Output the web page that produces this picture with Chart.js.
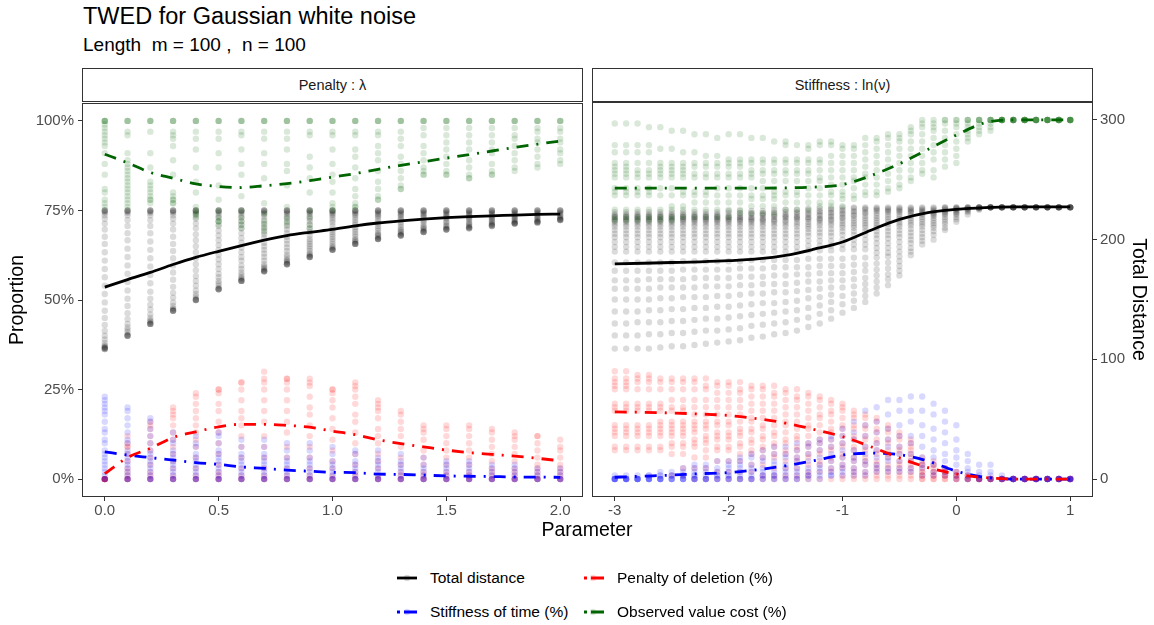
<!DOCTYPE html>
<html>
<head>
<meta charset="utf-8">
<script src="https://cdn.jsdelivr.net/npm/chart.js@4.4.1/dist/chart.umd.min.js"></script>
<style>
  body { margin: 0; background: #fff; font-family: "Liberation Sans", Arial, sans-serif; }
  #wrap { position: relative; width: 1154px; height: 625px; overflow: hidden; }
  .txt { position: absolute; white-space: nowrap; line-height: 1; }
  .strip { position: absolute; top: 68px; height: 34px; width: 501px; border: 1px solid #333; box-sizing: border-box;
           display: flex; align-items: center; justify-content: center; font-size: 14.5px; color: #1a1a1a; }
  canvas { position: absolute; }
  .key { position: absolute; }
  .legtxt { position: absolute; font-size: 15.5px; line-height: 20px; color: #000; white-space: nowrap; }
</style>
</head>
<body>
<div id="wrap">
  <div class="txt" style="left:83px;top:5px;font-size:23.5px;color:#000;">TWED for Gaussian white noise</div>
  <div class="txt" style="left:83px;top:35px;font-size:19px;color:#000;">Length&nbsp; m = 100 ,&nbsp; n = 100</div>

  <div class="strip" style="left:82px;">Penalty : λ</div>
  <div class="strip" style="left:592px;">Stiffness : ln(ν)</div>

  <canvas id="penaltyChart" width="590" height="435" style="left:0px;top:90px;"></canvas>
  <canvas id="stiffnessChart" width="569" height="435" style="left:585px;top:90px;"></canvas>

  <div class="txt" style="left:487px;width:200px;text-align:center;top:520px;font-size:19.5px;color:#000;">Parameter</div>

  <!-- legend -->
  <svg class="key" style="left:394px;top:568px" width="26" height="20">
    <circle cx="13" cy="10" r="3.2" fill="rgba(0,0,0,0.15)"/>
    <line x1="3" y1="10" x2="23" y2="10" stroke="#000" stroke-width="2.8"/>
  </svg>
  <div class="legtxt" style="left:430px;top:568px">Total distance</div>
  <svg class="key" style="left:580px;top:568px" width="26" height="20">
    <circle cx="13" cy="10" r="3.2" fill="rgba(255,0,0,0.15)"/>
    <line x1="4" y1="10" x2="24" y2="10" stroke="#ff0000" stroke-width="2.8" stroke-dasharray="3 4 13 8"/>
  </svg>
  <div class="legtxt" style="left:617px;top:568px">Penalty of deletion (%)</div>
  <svg class="key" style="left:394px;top:602px" width="26" height="20">
    <circle cx="13" cy="10" r="3.2" fill="rgba(0,0,255,0.15)"/>
    <line x1="3" y1="10" x2="23" y2="10" stroke="#0000ff" stroke-width="2.8" stroke-dasharray="3 4 13 8"/>
  </svg>
  <div class="legtxt" style="left:430px;top:602px">Stiffness of time (%)</div>
  <svg class="key" style="left:580px;top:602px" width="26" height="20">
    <circle cx="13" cy="10" r="3.2" fill="rgba(0,100,0,0.15)"/>
    <line x1="4" y1="10" x2="24" y2="10" stroke="#006400" stroke-width="2.8" stroke-dasharray="3 4 13 8"/>
  </svg>
  <div class="legtxt" style="left:617px;top:602px">Observed value cost (%)</div>
</div>

<script>
// ---- parameter grids ----
const lambdaSteps = [0, 0.1, 0.2, 0.3, 0.4, 0.5, 0.6, 0.7, 0.8, 0.9, 1.0, 1.1, 1.2, 1.3, 1.4, 1.5, 1.6, 1.7, 1.8, 1.9, 2.0];
const lnNuSteps = [-3, -2.9, -2.8, -2.7, -2.6, -2.5, -2.4, -2.3, -2.2, -2.1, -2, -1.9, -1.8, -1.7, -1.6, -1.5, -1.4, -1.3, -1.2, -1.1,
                   -1, -0.9, -0.8, -0.7, -0.6, -0.5, -0.4, -0.3, -0.2, -0.1, 0, 0.1, 0.2, 0.3, 0.4, 0.5, 0.6, 0.7, 0.8, 0.9, 1];

// tick labels
const lambdaTicks = [0, 0.5, 1, 1.5, 2];
const lnNuTicks = [-3, -2, -1, 0, 1];
const propTicks = [0, 25, 50, 75, 100];
const distTicks = [0, 100, 200, 300];

// ---- penalty panel: observations per lambda (one string per column) ----
// total distance (right axis units)
const lamTotal = [
  "225 225 225 224 223 221 218 214 209 203 197 190 183 176 169 162 155 148 141 135 129 124 120 117 114 112 111 110 110 110 109 109 109",
  "225 225 225 224 223 221 217 212 206 200 193 186 179 172 165 158 151 145 139 134 130 127 125 123 121 120 120 120 120",
  "225 225 225 224 223 221 217 212 206 199 192 185 178 171 164 157 151 146 142 138 135 133 132 131 130 130 130 130",
  "225 225 225 224 223 221 218 214 209 203 197 191 185 179 173 167 161 156 152 148 145 143 142 141 141 141 141",
  "225 225 225 224 223 221 218 214 210 205 200 195 190 185 180 175 170 166 162 158 155 153 151 150 150 150 150",
  "225 225 225 224 223 221 219 216 212 208 204 200 196 192 188 184 180 176 172 169 166 164 162 160 159 159 159 159",
  "225 225 225 224 223 221 219 216 213 210 206 202 198 194 190 186 183 179 176 173 171 169 168 167 166 166 166 166",
  "225 225 225 224 223 222 220 217 214 211 208 205 202 198 195 192 189 186 183 180 178 177 176 175 174 174 174 174",
  "225 225 225 224 223 222 220 218 215 212 209 206 203 200 197 194 191 188 186 184 183 182 181 180 180 180 180",
  "225 225 225 224 223 222 220 218 216 213 210 207 204 201 199 197 195 193 191 189 188 187 186 186 186 186",
  "225 225 225 224 223 222 221 219 217 215 212 209 207 205 203 201 199 197 195 194 193 192 192 192 192",
  "225 225 225 224 223 222 221 219 217 215 213 211 209 207 205 203 201 200 199 198 197 197 197 197",
  "225 225 225 224 223 222 221 220 218 216 214 212 210 208 206 205 204 203 202 201 201 201 201",
  "225 225 225 224 223 222 221 220 218 217 215 213 211 209 208 207 206 205 204 204 204 204",
  "225 225 225 224 223 222 221 220 219 217 216 214 212 211 210 209 208 207 207 207 207",
  "225 225 225 224 223 222 221 220 219 218 216 215 213 212 211 210 209 209 209 209",
  "225 225 225 224 223 222 221 220 219 218 217 215 214 213 212 211 211 210 210 210",
  "225 225 225 224 223 222 221 220 219 218 217 216 215 214 213 213 212 212 212",
  "225 225 225 224 223 222 221 220 219 218 217 216 215 215 214 214 214 214",
  "225 225 225 224 223 222 221 220 219 218 217 216 216 215 215 215 215",
  "225 225 225 224 223 222 221 220 219 218 218 217 217 217 217"
];
// penalty of deletion (%)
const lamPenalty = [
  "0 0 0 0 0 0 0 0 0",
  "0 0 0 0 1 2 3 5 7 9 9 10 12",
  "0 0 0 1 2 4 6 8 10 12 14 15 16",
  "0 0 0 1 3 5 7 9 11 13 15 17 18 19 20",
  "0 0 0 1 3 6 9 11 13 15 17 19 21 23 24",
  "0 0 0 1 2 4 7 10 13 16 19 21 24 25 25",
  "0 0 0 1 3 6 9 12 15 17 19 22 25 27 27",
  "0 0 0 1 3 6 9 12 16 19 22 25 27 28 30",
  "0 0 0 1 3 6 9 13 16 19 22 25 27 28 28",
  "0 0 0 1 3 6 9 12 15 18 20 23 26 27 28",
  "0 0 0 1 3 5 8 11 14 17 20 22 24 25 25",
  "0 0 0 1 2 4 7 10 13 16 18 21 23 25 26 27",
  "0 0 0 1 3 5 7 10 12 14 17 19 20 21 22",
  "0 0 0 1 2 4 6 9 12 14 16 18 19",
  "0 0 0 1 2 4 6 8 11 13 14 15",
  "0 0 0 1 2 4 6 8 10 12 14 15",
  "0 0 0 1 2 4 6 8 10 12 14 15",
  "0 0 0 1 2 3 5 7 9 11 13 14",
  "0 0 0 1 2 3 5 7 9 11 12 13",
  "0 0 0 1 2 3 4 6 8 10 12 12",
  "0 0 0 1 2 3 4 6 8 9 11"
];
// stiffness of time (%)
const lamStiffness = [
  "0 0 0 1 2 3 4 5 6 7 8 10 11 13 14 16 18 19 20 21 22 23",
  "0 0 0 1 2 3 4 5 6 7 8 10 11 13 15 17 19 20",
  "0 0 0 1 2 3 4 5 6 7 8 10 12 14 16 17",
  "0 0 0 1 2 3 4 5 6 7 8 10 11 13",
  "0 0 0 1 2 3 4 5 6 7 9 10 12",
  "0 0 0 1 2 3 4 5 6 7 8 10 12 13",
  "0 0 0 1 2 3 4 5 6 7 9 11",
  "0 0 0 1 2 3 4 5 6 7 9 11",
  "0 0 0 1 2 3 4 5 6 8 10",
  "0 0 0 1 2 3 4 5 6 8 10",
  "0 0 0 1 2 3 4 5 7 9",
  "0 0 0 1 2 3 4 5 7 8",
  "0 0 0 1 2 3 4 5 6 8",
  "0 0 0 1 2 3 4 5 7",
  "0 0 0 1 2 3 4 6",
  "0 0 0 1 2 3 4 5",
  "0 0 0 1 2 3 4 5",
  "0 0 0 1 2 3 4",
  "0 0 0 1 2 3 4",
  "0 0 0 1 2 3",
  "0 0 0 1 2 3"
];
// observed value cost (%)
const lamObserved = [
  "100 100 100 100 99 98 97 96 95 94 93 91 88 85 81 80 78 77 76",
  "100 100 100 97 96 91 89 88 87 86 85 84 83 82 81 80 79 78 77 76",
  "100 100 100 97 91 87 83 82 81 80 79 78 78 77",
  "100 100 100 97 96 95 93 89 85 80 79 78 78 77 77",
  "100 100 100 97 95 92 87 83 80 76 75 74 74 73",
  "100 100 100 97 95 91 87 82 78 75 73 72 72 71",
  "100 100 100 97 96 92 88 85 79 75 73 72 71 70",
  "100 100 100 97 95 91 88 84 77 74 72 71 70 69",
  "100 100 100 97 95 92 88 86 82 76 73 72 71",
  "100 100 100 97 96 90 87 84 80 75 73 71 70",
  "100 100 100 97 96 92 88 85 83 80 77 76 75",
  "100 100 100 97 96 92 90 87 84 81 79 77 76 76",
  "100 100 100 97 96 93 91 89 86 83 81 79 78 78",
  "100 100 100 97 95 93 90 88 86 84 82 81 81",
  "100 100 100 98 96 93 91 89 87 86 85 85",
  "100 100 100 98 96 94 92 90 88 86 85 85",
  "100 100 100 98 96 94 92 89 87 85 84 84",
  "100 100 100 98 96 94 92 91 88 86 85 85",
  "100 100 100 98 96 95 93 91 89 87 86",
  "100 100 100 98 97 95 94 92 90 88 87",
  "100 100 100 98 97 95 94 92 91 89 88"
];

// ---- stiffness panel: observations per ln(nu) ----
const nuTotal = [
  "223 221 220 219 218 217 216 215 213 211 208 205 202 198 194 190 181 174 166 159 150 140 130 120 109",
  "223 221 220 219 218 217 216 215 213 211 208 205 202 198 194 190 181 174 166 159 150 140 130 120 109",
  "223 221 220 219 218 217 216 215 213 211 208 205 202 198 194 190 181 174 166 159 150 140 131 120 109",
  "223 221 220 219 218 217 216 215 213 211 208 205 202 198 194 190 181 174 167 159 150 141 131 121 109",
  "223 221 220 219 218 217 216 215 213 211 208 205 202 198 194 190 181 174 167 160 151 141 131 121 110",
  "223 221 220 219 218 217 216 215 213 211 208 205 202 198 194 190 181 174 167 160 151 142 132 122 111",
  "223 221 220 219 218 217 216 215 213 211 208 205 202 198 194 190 182 175 167 160 152 142 132 122 111",
  "223 221 220 219 218 217 216 215 213 211 208 205 202 198 194 190 182 175 168 160 152 143 133 123 112",
  "223 221 220 219 218 217 216 215 213 211 208 205 202 198 194 190 182 175 168 161 152 143 134 124 113",
  "223 221 220 219 218 217 216 215 213 211 208 205 202 198 194 190 182 175 168 161 153 144 134 124 114",
  "224 222 220 219 218 217 216 215 213 211 208 205 202 198 194 190 182 175 168 161 153 144 135 125 115",
  "224 222 220 219 218 217 216 215 213 211 208 205 202 198 194 190 182 176 169 162 154 145 136 126 116",
  "224 222 221 219 218 217 216 215 213 211 208 205 202 198 194 190 183 176 169 162 155 146 137 128 118",
  "224 222 221 220 218 217 216 215 213 211 208 205 202 198 194 190 183 176 169 163 155 147 138 129 119",
  "225 223 221 220 219 217 216 215 213 211 208 205 202 198 194 190 183 177 170 163 156 147 139 130 121",
  "225 223 221 220 219 218 216 215 213 211 208 205 202 198 194 190 183 177 170 163 156 148 140 131 122",
  "225 223 222 220 219 218 217 215 213 211 208 205 202 198 194 190 183 177 171 164 157 149 141 133 124",
  "226 224 222 221 219 218 217 215 213 211 209 206 203 199 195 191 184 177 171 165 158 151 143 135 127",
  "226 224 223 221 220 218 217 216 214 212 209 206 203 199 195 191 184 178 172 165 159 152 145 138 130",
  "226 225 223 222 220 219 217 216 214 212 209 206 203 199 195 191 184 178 172 166 160 154 148 141 134",
  "227 225 224 222 221 219 218 216 214 212 210 207 204 200 196 192 184 178 172 166 160 153 146 139",
  "227 226 224 223 221 220 218 216 214 212 210 207 204 200 196 192 185 179 173 167 161 155 149 143",
  "227 226 225 223 222 220 218 216 214 212 210 207 204 200 196 192 185 179 174 168 163 158 153 148",
  "227 226 225 224 222 220 218 216 214 212 210 207 204 201 197 193 189 185 180 175 170 165 160 155",
  "227 226 225 224 223 221 219 217 215 213 210 207 204 201 197 193 189 186 181 176 171 167 162",
  "227 226 225 224 223 221 219 217 215 213 211 208 205 202 198 194 190 186 182 178 174 170",
  "227 226 225 224 223 222 220 218 216 214 212 209 206 203 200 197 193 190 187",
  "227 226 225 224 223 222 221 219 217 215 213 211 208 205 202 199 196",
  "227 226 225 224 223 222 221 220 218 216 214 212 210 207 204 200",
  "227 227 226 225 224 223 222 221 219 217 215 213 210 208",
  "227 227 226 226 225 224 223 222 221 219 217 215",
  "227 227 227 226 226 225 224 223 221",
  "227 227 227 227 227 226 226 225",
  "227 227 227 227 227 227 227 227",
  "227 227 227 227 227 227 227 227",
  "227 227 227 227 227 227 227 227",
  "227 227 227 227 227 227 227 227",
  "227 227 227 227 227 227 227 227",
  "227 227 227 227 227 227 227 227",
  "227 227 227 227 227 227 227 227",
  "227 227 227 227 227 227 227 227"
];
const nuPenalty = [
  "30 28 27 26 25 21 20 19 15 14 13 12 9 8",
  "30 28 27 26 25 21 20 19 15 14 13 12 9 8",
  "29 28 27 25 21 20 19 15 14 13 12 9 8",
  "29 28 27 25 21 20 19 15 14 13 12 9 8",
  "28 27 25 21 20 19 16 15 14 13 12 9 8",
  "28 27 25 22 20 19 16 15 14 13 12 10 9 7 1",
  "28 27 25 22 20 19 16 15 14 13 12 10 9 7 3 1",
  "28 27 25 22 20 18 16 15 14 13 11 10 9 6 3 0",
  "28 26 25 22 20 18 16 15 14 12 11 10 8 6 3 0",
  "27 26 24 22 20 18 16 15 13 12 11 9 8 5 2 0",
  "27 26 24 22 20 18 16 15 13 12 11 9 8 5 2 0",
  "27 25 24 22 20 18 16 14 13 12 10 9 7 5 2 0",
  "26 25 23 21 19 17 16 14 13 11 10 8 7 4 2 0",
  "26 25 23 21 19 17 15 14 12 11 9 8 6 4 1 0",
  "26 24 23 21 19 17 15 13 12 10 9 7 6 3 1 0",
  "25 24 22 20 18 16 15 13 11 10 8 7 5 3 1 0",
  "25 23 22 20 18 16 14 12 11 9 8 6 5 3 1 0",
  "24 23 21 19 17 15 14 12 10 9 7 6 4 2 1 0",
  "23 22 20 18 17 15 13 11 10 8 7 5 4 2 0",
  "22 21 19 18 16 14 13 11 9 8 6 5 3 2 0",
  "21 20 19 17 15 14 12 10 9 7 6 4 3 1 0",
  "19 18 17 15 14 12 11 9 8 6 5 3 2 1 0",
  "18 17 15 14 12 11 9 8 6 5 4 2 1 0",
  "17 16 14 13 11 10 8 7 5 4 3 2 1 0",
  "15 14 13 11 10 8 7 6 4 3 2 1 0",
  "13 12 11 9 8 7 5 4 3 2 1 0",
  "11 10 9 8 7 6 5 4 3 2 1 0",
  "6 5 4 4 3 2 2 1 1 0 0",
  "5 4 4 3 2 2 1 1 0 0",
  "3 3 2 2 1 1 1 0 0",
  "2 2 1 1 1 0 0 0",
  "1 1 0 0 0 0",
  "0 0 0 0 0 0",
  "0 0 0 0 0 0",
  "0 0 0 0 0 0",
  "0 0 0 0 0 0",
  "0 0 0 0 0 0",
  "0 0 0 0 0 0",
  "0 0 0 0 0 0",
  "0 0 0 0 0 0",
  "0 0 0 0 0 0"
];
const nuStiffness = [
  "0 0 0 0 0 0 1",
  "0 0 0 0 0 0 1",
  "0 0 0 0 0 0 1",
  "0 0 0 0 0 1 1",
  "0 0 0 0 0 1 1 2",
  "0 0 0 0 1 1 2",
  "0 0 0 0 1 1 2 3",
  "0 0 0 0 1 1 2 3 4",
  "0 0 0 0 1 2 3 4",
  "0 0 0 1 1 2 3 5",
  "0 0 0 1 1 2 3 4 5",
  "0 0 0 1 2 3 4 5 6",
  "0 0 0 1 2 3 4 6 7",
  "0 0 1 1 2 3 5 6 8",
  "0 0 1 1 2 4 5 7 9",
  "0 0 1 2 3 4 6 7 9",
  "0 0 1 2 3 5 6 8 10",
  "0 1 1 2 3 5 7 9 10",
  "0 1 2 3 4 6 8 10 11",
  "1 1 2 3 5 7 9 11 12",
  "1 2 3 4 6 8 10 12 14",
  "1 2 3 5 6 8 11 13 16",
  "1 2 4 5 7 9 12 15 19",
  "2 3 4 6 8 10 13 16 20",
  "2 3 5 6 9 11 14 18 22",
  "2 3 5 7 9 12 15 19 22",
  "2 3 5 7 10 12 16 19 23",
  "1 3 4 6 9 12 15 19 23",
  "1 2 4 6 8 11 14 18 21",
  "1 2 3 5 7 10 13 16 19",
  "0 1 2 4 6 8 11 15",
  "0 0 1 2 3 5 7",
  "0 0 0 1 2 4",
  "0 0 0 1 2 4",
  "0 0 0 0 1",
  "0 0 0 0 0 0",
  "0 0 0 0 0 0",
  "0 0 0 0 0 0",
  "0 0 0 0 0 0",
  "0 0 0 0 0 0",
  "0 0 0 0 0 0"
];
const nuObserved = [
  "99 93 91 88 87 86 85 84 81 80 79 75 73 72",
  "99 93 91 88 87 86 85 84 81 80 79 75 73 72",
  "99 93 91 88 86 85 84 81 80 79 75 73 72",
  "98 93 91 88 86 85 84 81 80 79 75 73 72",
  "98 92 88 87 86 85 84 81 79 75 73 72",
  "97 92 88 87 86 85 84 81 79 76 75 73 72",
  "97 91 88 87 86 85 84 80 79 76 75 73",
  "96 91 88 87 85 84 80 79 77 75 73",
  "96 90 88 87 85 84 80 79 77 75 73",
  "95 90 88 87 85 84 81 79 77 75 73",
  "96 89 88 87 85 84 81 79 77 75 73",
  "96 89 88 87 85 84 81 79 77 75 74",
  "95 89 88 86 85 84 81 79 78 76 74",
  "95 89 88 86 85 83 81 79 78 76 74",
  "94 89 88 86 85 83 80 79 78 76 74",
  "94 93 89 88 86 85 83 80 79 77 75",
  "93 89 88 86 85 83 80 79 77 75",
  "93 92 89 88 86 85 83 81 79 77 75",
  "94 93 89 88 86 84 83 81 79 77 76",
  "94 93 90 88 86 84 82 80 79 77 76",
  "93 92 90 88 86 84 82 80 79 78 76",
  "93 92 90 88 86 84 83 81 79 78",
  "95 93 91 89 87 85 84 82 80 79",
  "95 94 92 90 88 86 84 82 80 79",
  "96 95 93 91 89 87 85 83 81 80",
  "96 95 94 92 90 88 86 84 82 81",
  "98 97 96 94 92 90 88 86 84 83",
  "100 99 98 96 94 92 90 88 86 85",
  "100 99 98 97 95 93 91 89 86 84",
  "100 100 99 97 95 93 91 89 87",
  "100 100 99 98 96 94 92 90 88",
  "100 100 100 99 98 97 96 95 94",
  "100 100 100 100 99 98 97 96",
  "100 100 100 100 100 99 98 97",
  "100 100 100 100 100 100 100 100",
  "100 100 100 100 100 100 100 100",
  "100 100 100 100 100 100 100 100",
  "100 100 100 100 100 100 100 100",
  "100 100 100 100 100 100 100 100",
  "100 100 100 100 100 100 100 100",
  "100 100 100 100 100 100 100 100"
];

// ---- smoothed trend lines ----
const lamFitTotal = [160.8, 167.1, 173.1, 179.7, 185.7, 190.8, 195.6, 200.1, 204, 206.7, 209.1, 212.1, 214.5, 216.3, 217.8, 219, 219.9, 220.5, 221.1, 221.7, 222];
const lamFitPenalty = [1.5, 6.0, 8.6, 11.6, 13.2, 14.6, 15.3, 15.3, 15.0, 14.5, 13.4, 12.4, 11.0, 9.9, 9.0, 8.1, 7.4, 6.9, 6.4, 5.8, 5.1];
const lamFitStiffness = [7.6, 6.7, 6.0, 5.3, 4.6, 4.1, 3.4, 3.0, 2.5, 2.2, 1.9, 1.8, 1.4, 1.3, 1.1, 0.9, 0.8, 0.7, 0.6, 0.55, 0.5];
const lamFitObserved = [90.7, 88.3, 85.6, 84.0, 82.4, 81.7, 81.4, 81.9, 82.5, 83.3, 84.3, 85.3, 86.5, 87.6, 88.6, 89.6, 90.6, 91.6, 92.6, 93.5, 94.4];

const nuFitX = [-3, -2.75, -2.5, -2.25, -2, -1.75, -1.5, -1.25, -1, -0.75, -0.5, -0.25, 0, 0.25, 0.5, 0.75, 1];
const nuFitTotal = [179.7, 180.3, 180.9, 181.5, 182.4, 183.9, 186.9, 192, 198, 207.9, 216.9, 222.6, 225.3, 226.8, 227.4, 227.4, 227.4];
const nuFitPenalty = [18.7, 18.6, 18.4, 18.1, 17.7, 16.8, 15.6, 13.8, 11.8, 9.0, 5.9, 3.2, 1.4, 0.4, 0, 0, 0];
const nuFitStiffness = [0.5, 0.8, 1.1, 1.5, 1.8, 2.6, 3.7, 5.1, 6.7, 7.2, 6.8, 5.0, 2.2, 0.5, 0, 0, 0];
const nuFitObserved = [81.0, 81.0, 81.0, 81.0, 81.0, 81.0, 81.1, 81.3, 82.0, 84.5, 87.8, 91.8, 95.8, 99.2, 100, 100, 100];

// ---- helpers ----
Chart.defaults.font.family = '"Liberation Sans", Arial, sans-serif';

function toPoints(xs, cols) {
  const pts = [];
  cols.forEach((s, i) => {
    s.trim().split(/\s+/).forEach(v => pts.push({ x: xs[i], y: Number(v) }));
  });
  return pts;
}
function toLine(xs, ys) {
  return ys.map((y, i) => ({ x: xs[i], y: y }));
}

const dotDash = [12, 8, 2, 8];

function pointSet(data, color, axis, order) {
  return { data: data, yAxisID: axis, backgroundColor: color, borderWidth: 0,
           pointRadius: 3.2, pointHoverRadius: 3.2, order: order };
}
function lineSet(data, color, axis, dash) {
  return { data: data, yAxisID: axis, showLine: true, borderColor: color, borderWidth: 2.8,
           borderDash: dash, pointRadius: 0, cubicInterpolationMode: 'monotone', order: 0 };
}

const panelBorder = {
  id: 'panelBorder',
  afterDraw(chart) {
    const a = chart.chartArea, ctx = chart.ctx;
    ctx.save();
    ctx.strokeStyle = '#333';
    ctx.lineWidth = 1;
    ctx.strokeRect(a.left + 0.5, a.top + 0.5, a.right - a.left - 1, a.bottom - a.top - 1);
    ctx.restore();
  }
};

const tickGrid = { drawOnChartArea: false, drawTicks: true, tickLength: 4, color: '#333', tickWidth: 1 };
const tickFont = { size: 15 };

function makeChart(id, xs, fitX, obs, fits, opts) {
  const datasets = [
    lineSet(toLine(fitX, fits.total), '#000000', 'y2', []),
    lineSet(toLine(fitX, fits.penalty), '#ff0000', 'y', dotDash),
    lineSet(toLine(fitX, fits.stiffness), '#0000ff', 'y', dotDash),
    lineSet(toLine(fitX, fits.observed), '#006400', 'y', dotDash),
    pointSet(toPoints(xs, obs.observed), 'rgba(0,100,0,0.15)', 'y', 4),
    pointSet(toPoints(xs, obs.stiffness), 'rgba(0,0,255,0.15)', 'y', 5),
    pointSet(toPoints(xs, obs.penalty), 'rgba(255,0,0,0.15)', 'y', 6),
    pointSet(toPoints(xs, obs.total), 'rgba(0,0,0,0.14)', 'y2', 7)
  ];
  return new Chart(document.getElementById(id), {
    type: 'scatter',
    data: { datasets: datasets },
    plugins: [panelBorder],
    options: {
      responsive: false,
      animation: false,
      devicePixelRatio: 1,
      layout: { padding: opts.padding },
      plugins: { legend: { display: false }, tooltip: { enabled: false } },
      scales: {
        x: {
          type: 'linear', min: opts.xmin, max: opts.xmax,
          afterBuildTicks: s => { s.ticks = opts.xticks.map(v => ({ value: v })); },
          afterFit: s => { s.height = 28; },
          grid: tickGrid, border: { display: false },
          ticks: { font: tickFont, color: '#4d4d4d', padding: 1, maxRotation: 0,
                   callback: opts.xfmt }
        },
        y: {
          type: 'linear', position: 'left', min: -5, max: 105, display: opts.showLeft,
          afterBuildTicks: s => { s.ticks = propTicks.map(v => ({ value: v })); },
          afterFit: s => { if (opts.showLeft) s.width = 82; },
          grid: tickGrid, border: { display: false },
          ticks: { font: tickFont, color: '#4d4d4d', padding: 4, callback: v => v + '%' },
          title: { display: true, text: 'Proportion', color: '#000', font: { size: 19.5 }, padding: { top: 6, bottom: 0 } }
        },
        y2: {
          type: 'linear', position: 'right', min: -15, max: 315, display: opts.showRight,
          afterBuildTicks: s => { s.ticks = distTicks.map(v => ({ value: v })); },
          afterFit: s => { if (opts.showRight) s.width = 61; },
          grid: tickGrid, border: { display: false },
          ticks: { font: tickFont, color: '#4d4d4d', padding: 3 },
          title: { display: true, text: 'Total Distance', color: '#000', font: { size: 19.5 }, padding: { top: 4, bottom: 0 } }
        }
      }
    }
  });
}

makeChart('penaltyChart', lambdaSteps, lambdaSteps,
  { total: lamTotal, penalty: lamPenalty, stiffness: lamStiffness, observed: lamObserved },
  { total: lamFitTotal, penalty: lamFitPenalty, stiffness: lamFitStiffness, observed: lamFitObserved },
  { padding: { top: 7, right: 7, left: 0, bottom: 0 }, xmin: -0.1, xmax: 2.1, xticks: lambdaTicks,
    xfmt: v => Number(v).toFixed(1), showLeft: true, showRight: false });

makeChart('stiffnessChart', lnNuSteps, nuFitX,
  { total: nuTotal, penalty: nuPenalty, stiffness: nuStiffness, observed: nuObserved },
  { total: nuFitTotal, penalty: nuFitPenalty, stiffness: nuFitStiffness, observed: nuFitObserved },
  { padding: { top: 7, right: 0, left: 7, bottom: 0 }, xmin: -3.2, xmax: 1.2, xticks: lnNuTicks,
    xfmt: v => String(v), showLeft: false, showRight: true });
</script>
</body>
</html>
